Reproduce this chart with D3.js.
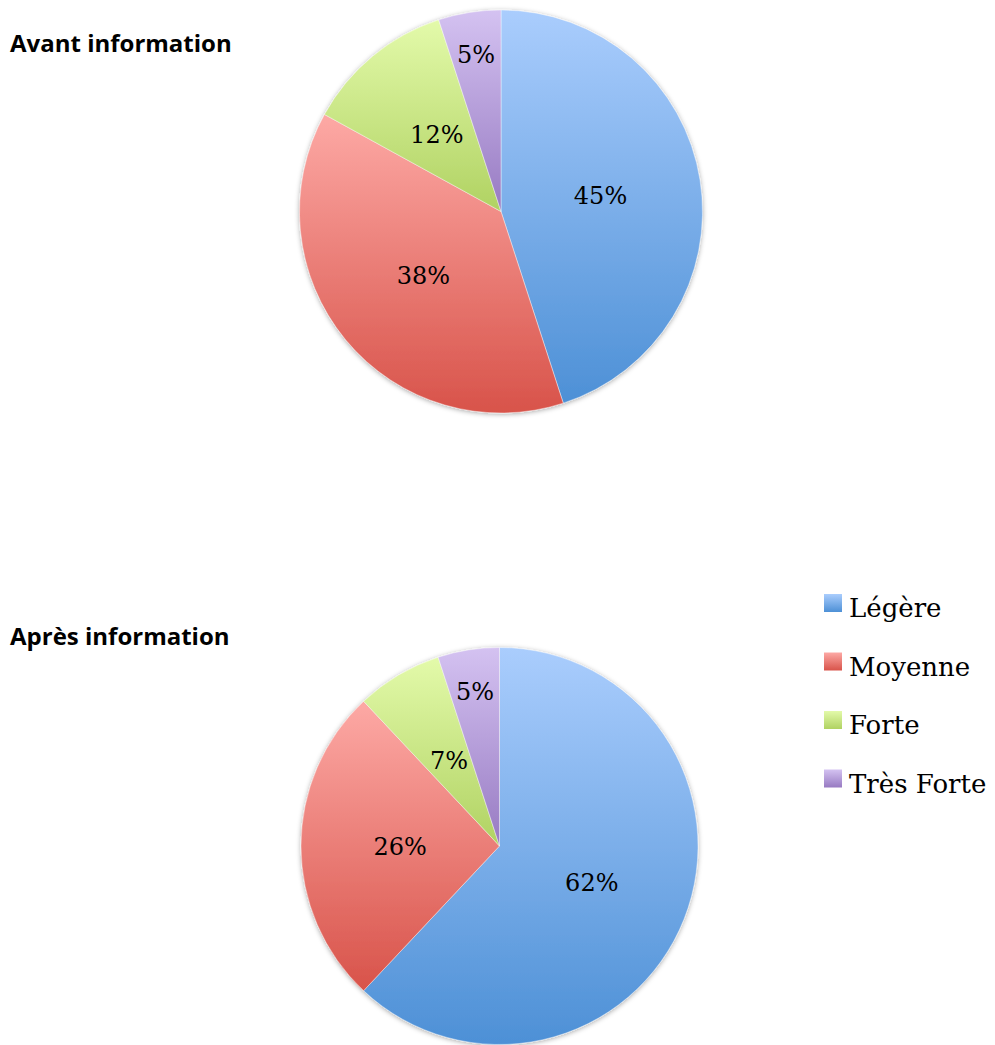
<!DOCTYPE html>
<html>
<head>
<meta charset="utf-8">
<script src="https://cdn.jsdelivr.net/npm/d3@7"></script>
<style>
  body { margin: 0; background: #fff; }
  .title { font-family: "Open Sans", sans-serif; font-weight: bold; font-size: 24px; fill: #000; }
  .pct { font-family: "DejaVu Serif", serif; font-size: 24px; fill: #000; }
  .leg { font-family: "DejaVu Serif", serif; font-size: 26px; fill: #000; }
</style>
</head>
<body>
<div id="chart"></div>
<script>
// categories and values (percent)
var categories = ["Légère", "Moyenne", "Forte", "Très Forte"];
var avantValues = [45, 38, 12, 5];
var apresValues = [62, 26, 7, 5];
var titles = ["Avant information", "Après information"];

// light (top) / dark (bottom) colours of each slice gradient
var colorsTop = ["#aacdfd", "#fda9a5", "#e3faaa", "#d4c2f1"];
var colorsBottom = ["#4d90d6", "#d8534a", "#b0d262", "#977ac2"];

var width = 995, height = 1045;

var svg = d3.select("#chart").append("svg")
    .attr("width", width)
    .attr("height", height);

var defs = svg.append("defs");

categories.forEach(function (c, i) {
  var g = defs.append("linearGradient")
      .attr("id", "grad" + i)
      .attr("x1", 0).attr("y1", 0).attr("x2", 0).attr("y2", 1);
  g.append("stop").attr("offset", "0%").attr("stop-color", colorsTop[i]);
  g.append("stop").attr("offset", "100%").attr("stop-color", colorsBottom[i]);
});

var shadow = defs.append("filter").attr("id", "shadow")
    .attr("x", "-10%").attr("y", "-10%").attr("width", "120%").attr("height", "120%");
shadow.append("feDropShadow")
    .attr("dx", 0).attr("dy", 1)
    .attr("stdDeviation", 2.5)
    .attr("flood-color", "#000")
    .attr("flood-opacity", 0.35);

var pie = d3.pie().sort(null).value(function (d) { return d; });

function drawPie(values, cx, cy, r, title, titleY) {
  svg.append("text")
      .attr("class", "title")
      .attr("x", 10)
      .attr("y", titleY)
      .text(title);

  var arc = d3.arc().innerRadius(0).outerRadius(r);
  var g = svg.append("g").attr("transform", "translate(" + cx + "," + cy + ")");

  var slices = g.append("g").attr("filter", "url(#shadow)");
  slices.selectAll("path")
    .data(pie(values))
    .enter().append("path")
      .attr("d", arc)
      .attr("fill", function (d, i) { return "url(#grad" + i + ")"; })
      .attr("stroke", "rgba(255,255,255,0.5)")
      .attr("stroke-width", 0.8);

  g.selectAll("text.pct")
    .data(pie(values))
    .enter().append("text")
      .attr("class", "pct")
      .attr("text-anchor", "middle")
      .attr("dy", "0.36em")
      .attr("transform", function (d) {
        // small slices get their label pushed out toward the rim
        var lr = d.data < 6 ? r * 0.79 : r * 0.5;
        var a = (d.startAngle + d.endAngle) / 2;
        return "translate(" + (Math.sin(a) * lr) + "," + (-Math.cos(a) * lr) + ")";
      })
      .text(function (d) { return d.data + "%"; });
}

drawPie(avantValues, 501, 211.5, 201.5, titles[0], 52);
drawPie(apresValues, 499.5, 846, 198.5, titles[1], 645);

// legend
var legend = svg.append("g").attr("transform", "translate(824,594)");
var rows = legend.selectAll("g")
  .data(categories)
  .enter().append("g")
    .attr("transform", function (d, i) { return "translate(0," + (i * 58.5) + ")"; });
rows.append("rect")
    .attr("width", 18).attr("height", 18)
    .attr("fill", function (d, i) { return "url(#grad" + i + ")"; });
rows.append("text")
    .attr("class", "leg")
    .attr("x", 25)
    .attr("y", 23)
    .text(function (d) { return d; });
</script>
</body>
</html>
